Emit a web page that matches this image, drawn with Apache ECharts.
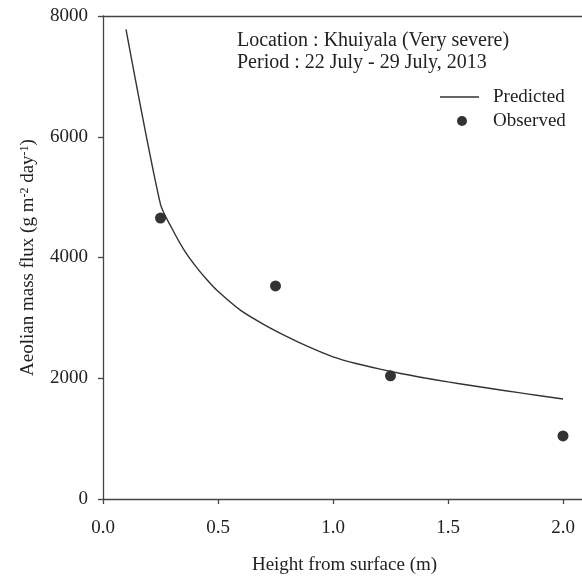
<!DOCTYPE html>
<html>
<head>
<meta charset="utf-8">
<script src="https://cdn.jsdelivr.net/npm/echarts@6/dist/echarts.min.js"></script>
<style>
  html, body { margin: 0; padding: 0; background: #fff; }
  #chart { width: 582px; height: 577px; }
</style>
</head>
<body>
<div id="chart"></div>
<script>
  // predicted curve (height m, flux g m-2 day-1)
  const predHeight = [0.10, 0.25, 0.30, 0.35, 0.40, 0.45, 0.50, 0.60, 0.70, 0.80, 0.90, 1.00,
                      1.10, 1.20, 1.30, 1.40, 1.50, 1.60, 1.70, 1.80, 1.90, 2.00];
  const predFlux = [7780, 4880, 4480, 4140, 3870, 3640, 3440, 3120, 2890, 2690, 2510, 2355,
                    2245, 2155, 2075, 2005, 1940, 1880, 1822, 1766, 1710, 1656];
  // observed points
  const obsHeight = [0.25, 0.75, 1.25, 2.0];
  const obsFlux = [4654, 3530, 2040, 1045];

  const serif = '"Liberation Serif", "Times New Roman", serif';
  const ink = '#222';
  const axisCol = '#444';

  const chart = echarts.init(document.getElementById('chart'));
  const option = {
    backgroundColor: '#fff',
    animation: false,
    textStyle: { fontFamily: serif, color: ink },
    grid: { left: 103, top: 16, width: 483, height: 483, outerBoundsMode: 'none' },
    legend: [
      {
        data: [{ name: 'Predicted', icon: 'rect' }],
        left: 435, top: 82,
        itemWidth: 39, itemHeight: 1.5,
        textStyle: { fontFamily: serif, fontSize: 19, color: ink, padding: [0, 0, 0, 9], lineHeight: 20 }
      },
      {
        data: [{ name: 'Observed', icon: 'circle' }],
        left: 452, top: 106,
        itemWidth: 10, itemHeight: 10,
        textStyle: { fontFamily: serif, fontSize: 19, color: ink, padding: [0, 0, 0, 21], lineHeight: 20 }
      }
    ],
    graphic: [
      {
        type: 'text', left: 237, top: 30,
        style: {
          text: 'Location : Khuiyala (Very severe)\nPeriod : 22 July - 29 July, 2013',
          font: '20px ' + serif, fill: ink, lineHeight: 22
        }
      }
    ],
    xAxis: [
      {
        type: 'value', min: 0, max: 2.1, interval: 0.5,
        name: 'Height from surface (m)', nameLocation: 'middle', nameGap: 57,
        nameTextStyle: { fontFamily: serif, fontSize: 19, color: ink },
        axisLine: { show: true, onZero: false, lineStyle: { color: axisCol, width: 1.3 } },
        axisTick: { show: true, inside: false, length: 5, lineStyle: { color: axisCol, width: 1.3 } },
        axisLabel: {
          margin: 20, fontFamily: serif, fontSize: 19, color: ink, showMaxLabel: false,
          formatter: v => (Math.abs(v * 2 - Math.round(v * 2)) < 1e-6 ? v.toFixed(1) : '')
        },
        splitLine: { show: false }
      },
      {
        // top frame line only
        type: 'value', position: 'top', min: 0, max: 2.1,
        axisLine: { show: true, onZero: false, lineStyle: { color: axisCol, width: 1.3 } },
        axisTick: { show: false }, axisLabel: { show: false }, splitLine: { show: false }
      }
    ],
    yAxis: {
      type: 'value', min: 0, max: 8000, interval: 2000,
      name: '{n|Aeolian mass flux (g m}{s|-2}{n| day}{s|-1}{n|)}',
      nameLocation: 'middle', nameGap: 65, nameRotate: 90,
      nameTextStyle: {
        fontFamily: serif, fontSize: 19, color: ink,
        rich: {
          n: { fontFamily: serif, fontSize: 19, color: ink },
          s: { fontFamily: serif, fontSize: 12, color: ink, verticalAlign: 'top' }
        }
      },
      axisLine: { show: true, lineStyle: { color: axisCol, width: 1.3 } },
      axisTick: { show: true, inside: false, length: 5, lineStyle: { color: axisCol, width: 1.3 } },
      axisLabel: { margin: 15, fontFamily: serif, fontSize: 19, color: ink, formatter: v => String(v) },
      splitLine: { show: false }
    },
    series: [
      {
        name: 'Predicted', type: 'line',
        data: predHeight.map((h, i) => [h, predFlux[i]]),
        showSymbol: false, symbol: 'none', smooth: 0.25,
        lineStyle: { color: '#333', width: 1.4 },
        itemStyle: { color: '#333' }
      },
      {
        name: 'Observed', type: 'scatter',
        data: obsHeight.map((h, i) => [h, obsFlux[i]]),
        symbol: 'circle', symbolSize: 11,
        itemStyle: { color: '#000' }
      }
    ]
  };
  chart.setOption(option);
</script>
</body>
</html>
